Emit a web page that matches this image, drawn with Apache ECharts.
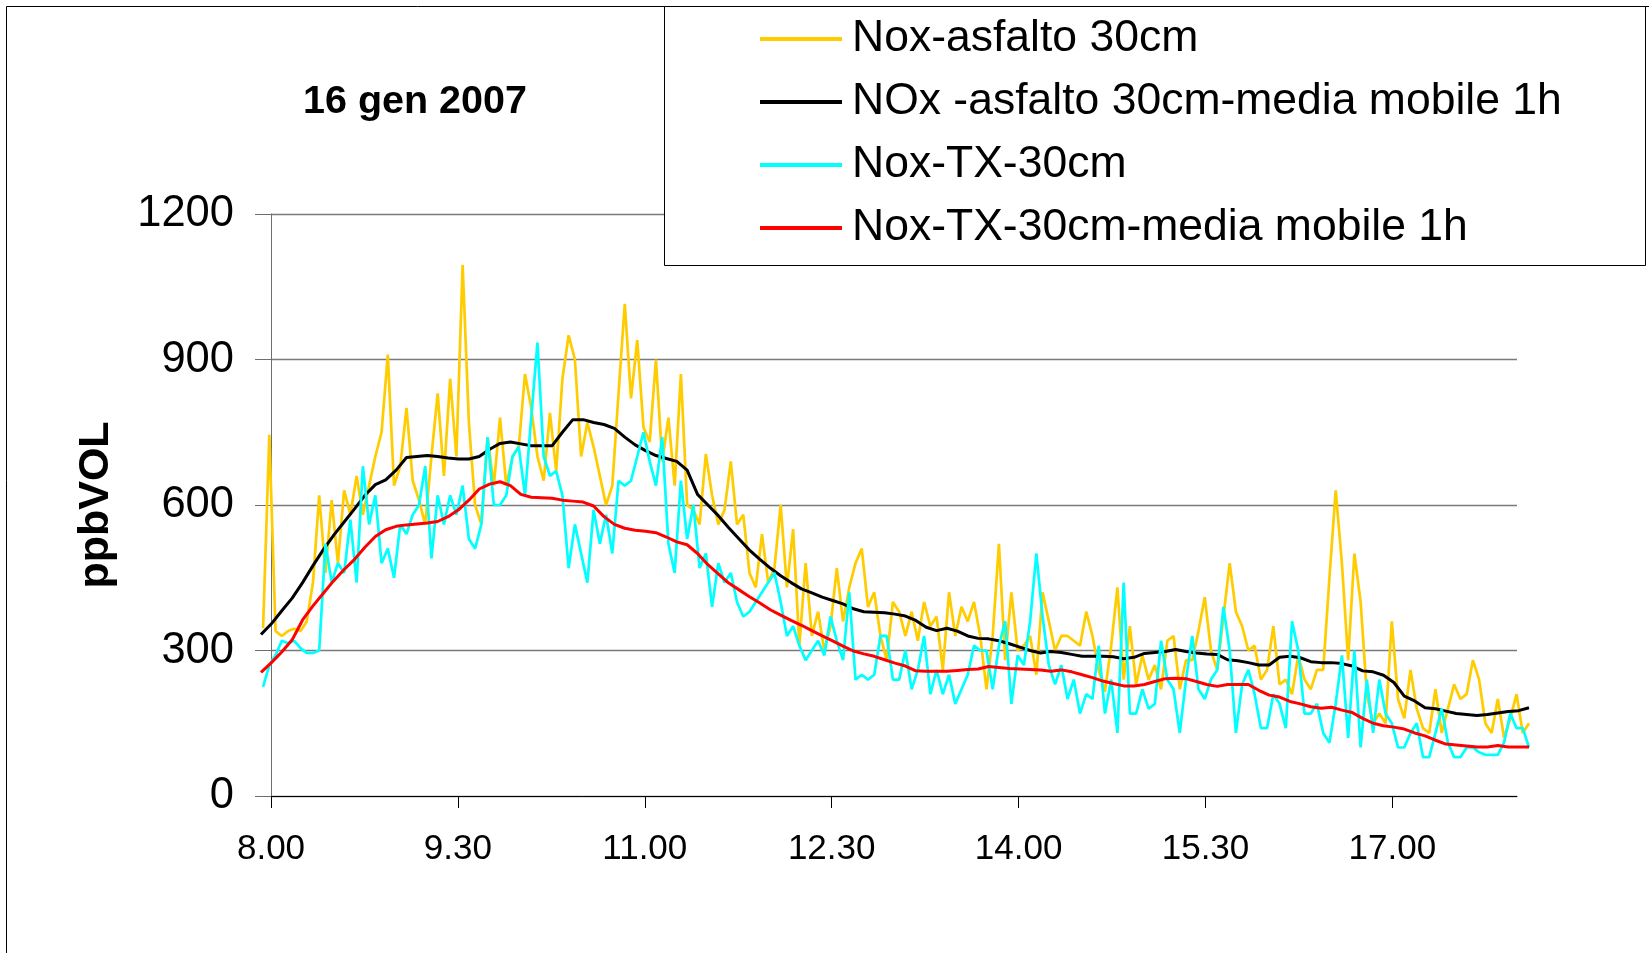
<!DOCTYPE html>
<html><head><meta charset="utf-8">
<script src="https://cdn.jsdelivr.net/npm/echarts@6/dist/echarts.min.js"></script>
<style>html,body{margin:0;padding:0;background:#fff}#c{width:1649px;height:953px}</style>
</head><body><div id="c"></div>
<script>
// time in minutes after midnight
const rawStartMin = 476, rawStepMin = 3;   // raw readings: 7.56 .. 18.05, every 3 min
const maStartMin = 475, maStepMin = 5;     // moving averages: every 5 min
const dataStartMin = 475, dataEndMin = 1085; // span actually covered by the plotted lines
const axisStartMin = 480, axisEndMin = 1080; // span of the drawn time axis

const noxAsfalto = [346,745,340,330,340,345,340,360,440,620,460,610,480,630,580,660,580,640,700,750,910,640,680,800,650,610,560,700,830,660,860,700,1095,770,
600,560,740,640,780,640,700,720,870,800,700,650,790,670,860,950,900,700,770,720,660,600,640,830,1015,820,940,760,730,900,690,780,640,870,600,
590,560,705,620,560,590,690,560,580,460,430,540,440,470,600,430,550,310,480,330,380,300,350,470,360,430,480,510,390,420,330,280,400,380,
330,380,320,400,350,370,260,420,330,390,360,400,330,220,330,520,280,420,300,310,330,250,420,360,300,330,330,320,310,380,330,260,215,310,
430,240,350,230,290,240,270,220,320,330,220,280,280,340,410,300,260,370,480,380,350,300,310,240,260,350,230,240,210,290,240,220,260,260,
450,630,480,280,500,400,210,150,170,150,360,200,160,260,180,140,130,220,130,180,230,200,210,280,240,150,130,200,120,160,210,130,150];

const noxAsfaltoMA = [333,355,382,408,440,475,508,538,565,592,
620,642,652,672,698,700,702,700,697,695,
695,700,715,727,730,726,722,722,722,750,
776,776,770,766,758,740,724,712,702,696,
690,672,622,600,578,553,530,507,488,470,
454,440,427,419,410,403,396,386,380,379,
378,375,371,362,348,341,346,340,330,325,
324,320,314,307,300,295,298,296,292,288,
288,288,287,283,286,294,296,298,302,298,
295,293,292,281,279,275,270,270,286,288,
285,277,275,275,273,268,258,256,249,234,
206,196,182,180,175,170,168,166,168,171,
174,176,182];

const noxTX = [225,270,290,320,315,320,305,295,295,300,520,440,480,460,570,440,680,560,620,480,510,450,560,540,580,600,680,490,620,560,620,580,640,530,
510,560,740,600,600,620,700,720,620,780,935,700,660,670,620,470,560,500,440,590,520,580,500,650,640,650,700,750,690,640,740,520,460,650,530,
600,470,500,390,480,440,460,400,370,380,400,420,440,460,400,330,350,310,280,300,320,290,370,320,280,420,240,250,240,250,330,330,240,240,
300,220,260,330,210,260,210,250,190,220,250,310,300,300,220,310,360,190,290,270,360,500,370,270,230,270,200,240,170,210,200,310,170,240,
130,440,170,170,220,180,190,320,240,220,130,240,330,220,200,240,260,390,300,130,230,260,210,140,140,210,190,140,360,300,170,170,190,130,
110,190,290,120,300,100,240,130,240,170,150,100,100,130,150,80,80,130,180,110,80,80,100,100,90,85,85,85,110,170,140,140,100];

const noxTXMA = [255,275,297,322,363,392,418,444,467,488,
513,535,549,556,559,561,563,566,576,590,
610,633,643,648,640,622,616,615,614,610,
608,606,598,576,560,552,548,546,543,534,
524,518,500,477,458,439,425,411,398,384,
373,362,352,341,330,320,309,299,293,288,
281,274,268,258,257,257,257,259,261,262,
267,265,263,262,261,260,257,260,256,250,
244,237,232,227,227,230,236,242,243,242,
236,230,226,230,230,230,218,208,204,195,
190,184,181,183,177,172,160,150,145,142,
138,130,124,115,107,105,103,101,101,104,
101,101,101];

const seriesNames = ['Nox-asfalto 30cm','NOx -asfalto 30cm-media mobile 1h','Nox-TX-30cm','Nox-TX-30cm-media mobile 1h'];
const seriesColors = ['#FFCC00','#000000','#00FFFF','#FF0000'];
const xTickValues = [480,570,660,750,840,930,1020];
const xTickLabels = ['8.00','9.30','11.00','12.30','14.00','15.30','17.00'];
const yTickValues = [0,300,600,900,1200];
const chartTitle = '16 gen 2007';
const yAxisTitle = 'ppbVOL';

const FONT = "'Liberation Sans', Arial, sans-serif";
function toPairs(vals, start, step){ return vals.map((v,i)=>[start + i*step, v]); }

const chart = echarts.init(document.getElementById('c'), null, {renderer:'canvas'});
const seriesData = [
  toPairs(noxAsfalto, rawStartMin, rawStepMin),
  toPairs(noxAsfaltoMA, maStartMin, maStepMin),
  toPairs(noxTX, rawStartMin, rawStepMin),
  toPairs(noxTXMA, maStartMin, maStepMin)
];
const widths = [2.7, 3, 2.7, 3];

chart.setOption({
  animation: false,
  backgroundColor: '#fff',
  grid: [
    {left: 271, right: 132, top: 214, bottom: 157, outerBoundsMode: 'none'},
    {left: 261, right: 120, top: 214, bottom: 157, outerBoundsMode: 'none'}
  ],
  xAxis: [{
    gridIndex: 0, type: 'value', min: axisStartMin, max: axisEndMin,
    axisLine: {show: true, onZero: false, lineStyle: {color: '#000', width: 1}},
    axisTick: {show: true, length: 12, lineStyle: {color: '#000'}, customValues: xTickValues},
    axisLabel: {fontSize: 35, fontFamily: FONT, color: '#000', margin: 36,
      customValues: xTickValues,
      formatter: v => { const i = xTickValues.indexOf(v); return i >= 0 ? xTickLabels[i] : ''; }},
    splitLine: {show: false}
  }, {
    gridIndex: 1, type: 'value', min: dataStartMin, max: dataEndMin, show: false
  }],
  yAxis: [{
    gridIndex: 0, type: 'value', min: 0, max: 1200, interval: 300,
    axisLine: {show: true, lineStyle: {color: '#6e6e6e', width: 1}},
    axisTick: {show: true, length: 16, lineStyle: {color: '#6e6e6e'}},
    axisLabel: {fontSize: 43.5, fontFamily: FONT, color: '#000', margin: 37,
      formatter: v => (yTickValues.indexOf(v) >= 0 ? String(v) : '')},
    splitLine: {show: true, lineStyle: {color: '#7a7a7a', width: 1.3}}
  }, {
    gridIndex: 1, type: 'value', min: 0, max: 1200, interval: 300, show: false,
    splitLine: {show: false}
  }],
  legend: {
    orient: 'vertical', left: 760, top: 14, padding: 0,
    itemWidth: 82, itemHeight: 4, itemGap: 13, icon: 'rect',
    selectedMode: false,
    data: seriesNames,
    textStyle: {fontSize: 44.5, lineHeight: 50, fontFamily: FONT, color: '#000', padding: [0,0,0,5]},
    z: 6
  },
  graphic: [
    {type: 'rect', z: -1, shape: {x: 6.5, y: 6.5, width: 1700, height: 1000},
      style: {fill: 'none', stroke: '#000', lineWidth: 1}},
    {type: 'rect', z: 5, shape: {x: 664.5, y: 6.5, width: 981, height: 259},
      style: {fill: '#fff', stroke: '#000', lineWidth: 1}},
    {type: 'text', z: 5, x: 415, y: 102,
      style: {text: chartTitle, fontSize: 39.5, fontWeight: 'bold', fontFamily: FONT, fill: '#000',
        align: 'center', verticalAlign: 'middle'}},
    {type: 'text', z: 5, x: 96, y: 505, rotation: Math.PI/2,
      style: {text: yAxisTitle, fontSize: 43, fontWeight: 'bold', fontFamily: FONT, fill: '#000',
        align: 'center', verticalAlign: 'middle'}}
  ],
  series: seriesNames.map((name, i) => ({
    name: name, type: 'line', data: seriesData[i],
    xAxisIndex: 1, yAxisIndex: 1,
    symbol: 'none', showSymbol: false, clip: false, smooth: false,
    lineStyle: {color: seriesColors[i], width: widths[i]},
    itemStyle: {color: seriesColors[i]},
    z: 2 + i * 0.1
  }))
});
</script></body></html>
